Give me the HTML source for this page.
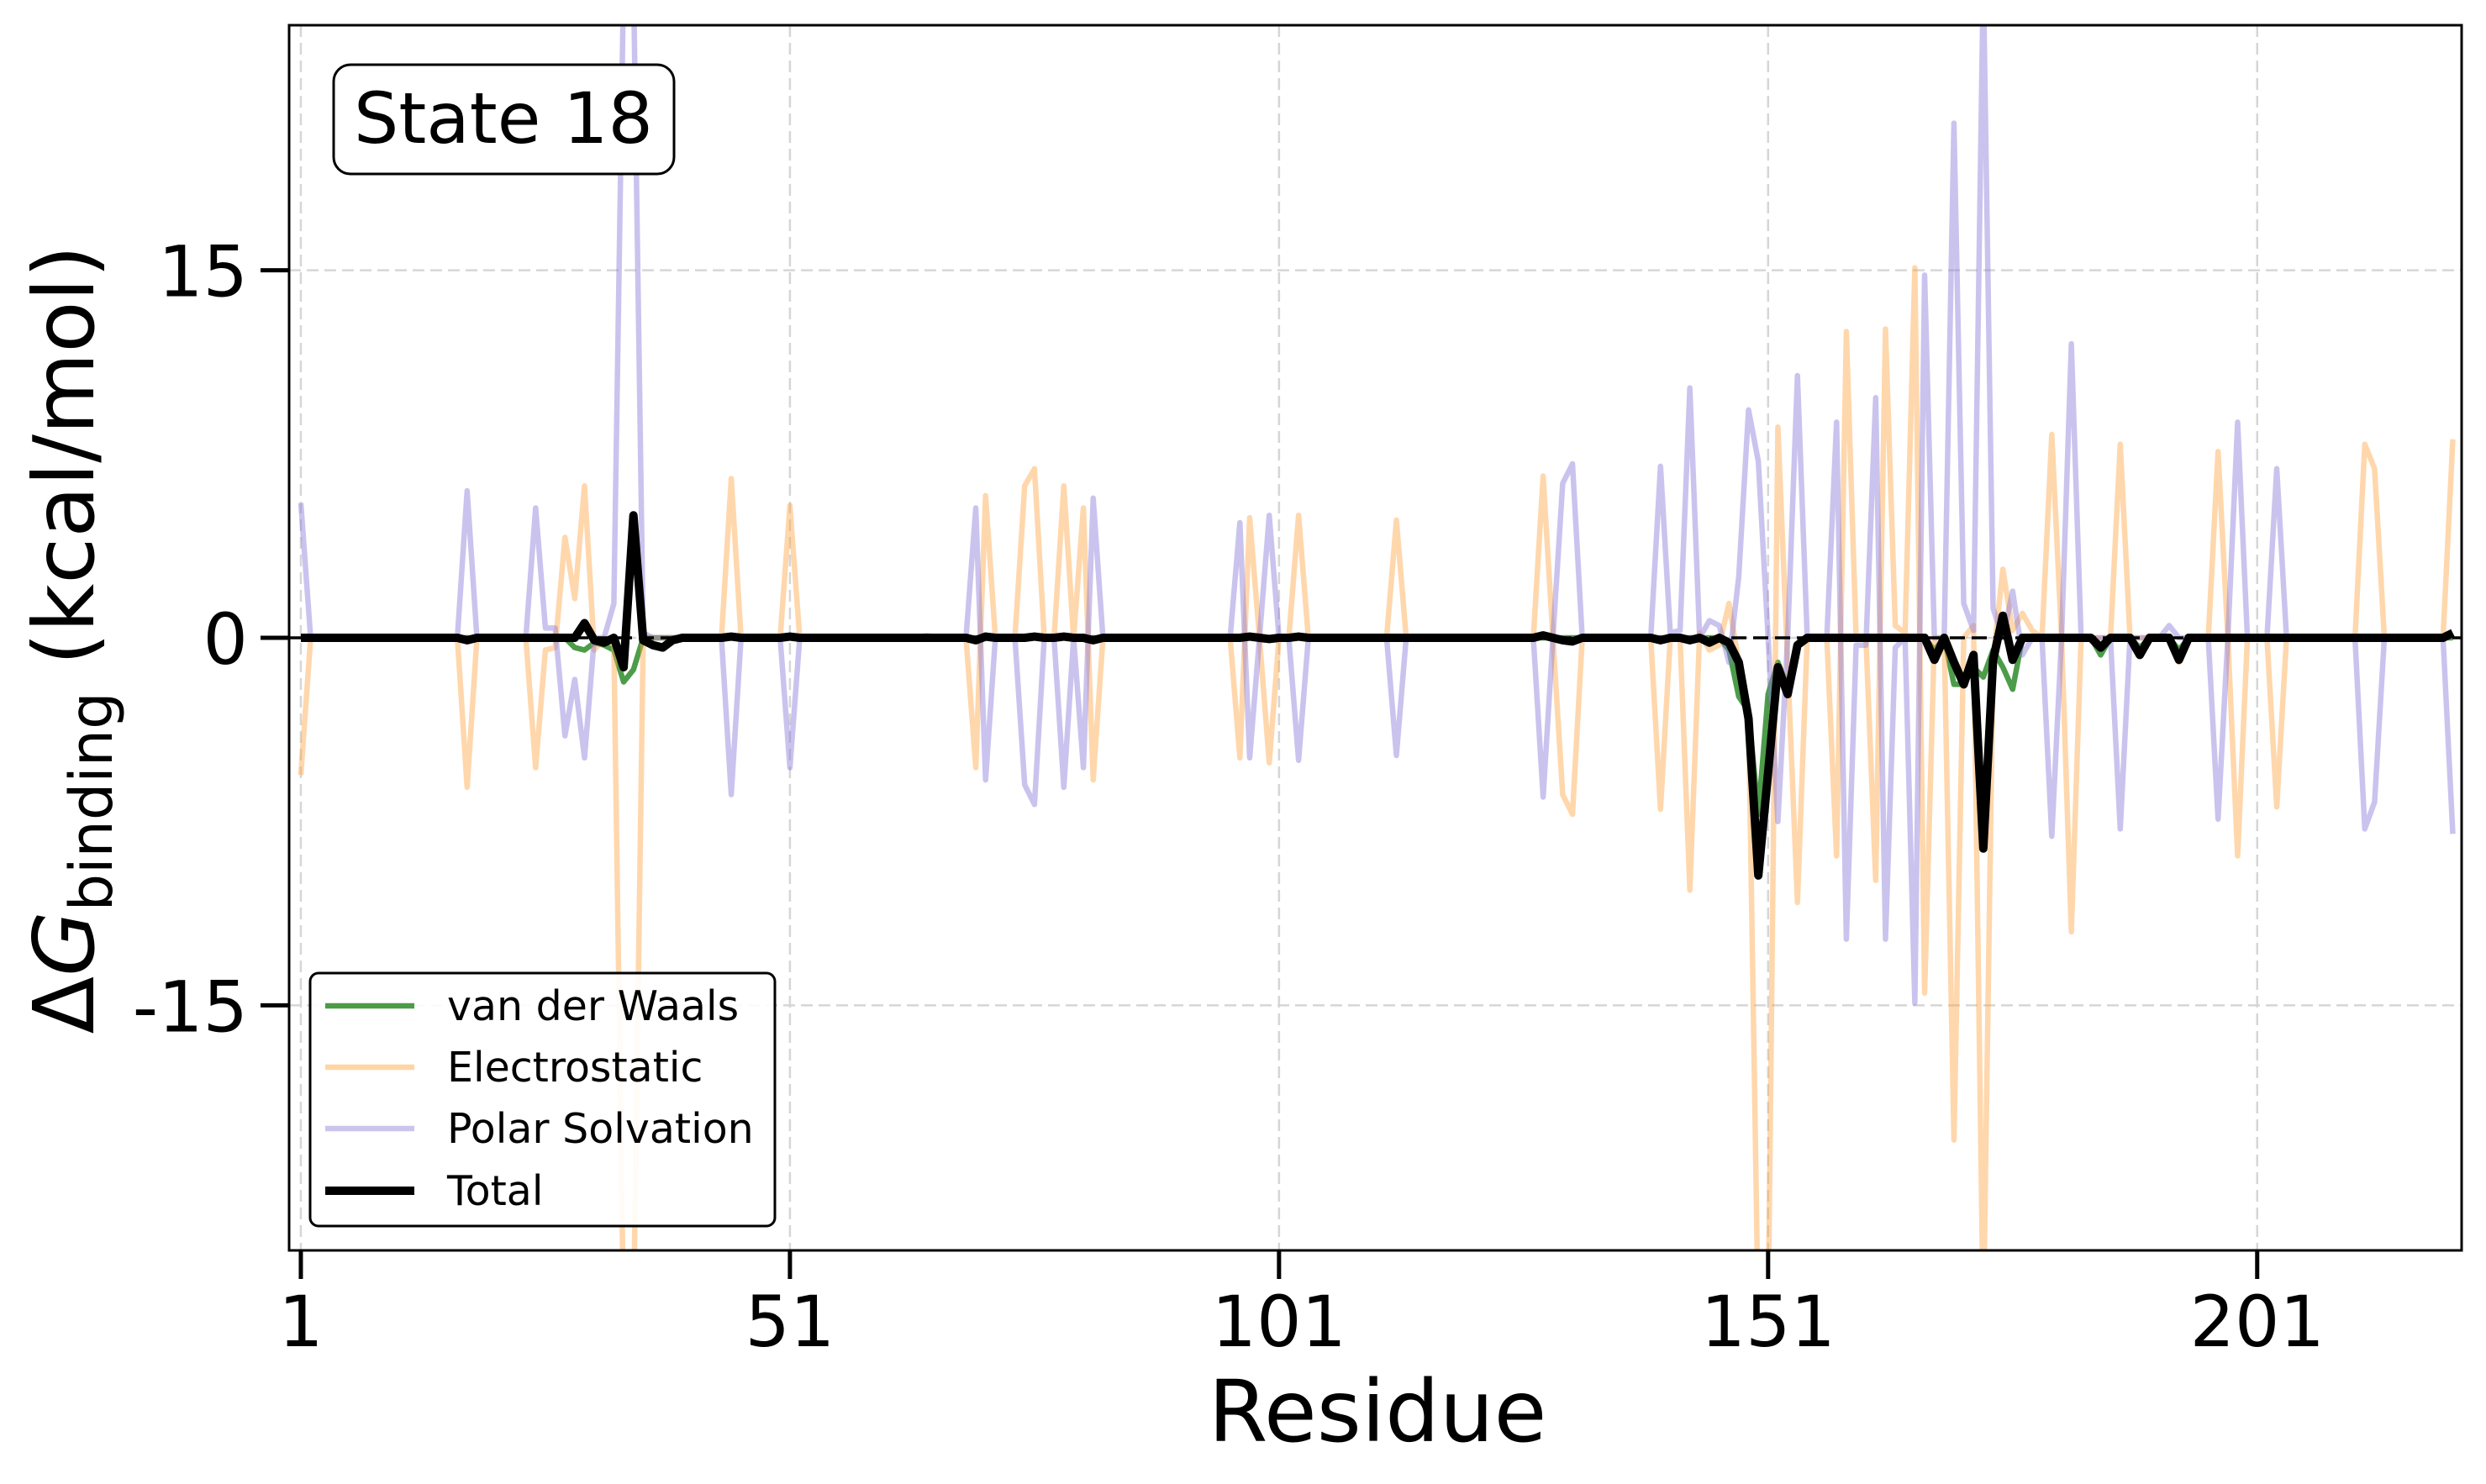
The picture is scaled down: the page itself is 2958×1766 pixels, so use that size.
<!DOCTYPE html>
<html>
<head>
<meta charset="utf-8">
<style>
  html, body { margin:0; padding:0; background:#fff; }
  svg { display:block; font-family: "DejaVu Sans", "Liberation Sans", sans-serif; }
</style>
</head>
<body>
<svg id="chart" width="2958" height="1766" viewBox="0 0 2958 1766" xmlns="http://www.w3.org/2000/svg">
  <defs>
    <clipPath id="plotClip"><rect x="344" y="30" width="2585" height="1458"/></clipPath>
  </defs>
  <rect x="0" y="0" width="2958" height="1766" fill="#ffffff"/>
  <g id="grid"></g>
  <g id="series" clip-path="url(#plotClip)"></g>
  <rect x="344" y="30" width="2585" height="1458" fill="none" stroke="#000" stroke-width="3"/>
  <g id="ticks"></g>

  <text x="1639" y="1715" font-size="102" text-anchor="middle">Residue</text>
  <text transform="translate(111,761) rotate(-90)" font-size="100" text-anchor="middle"><tspan>Δ</tspan><tspan font-style="italic">G</tspan><tspan font-size="70" dy="22">binding</tspan><tspan dy="-22"> (kcal/mol)</tspan></text>

  <g>
    <rect x="397" y="77" width="405" height="130" rx="20" ry="20" fill="#fff" stroke="#000" stroke-width="3"/>
    <text x="599" y="170" font-size="84" text-anchor="middle">State 18</text>
  </g>

  <g>
    <rect x="369" y="1158" width="553" height="301" rx="10" ry="10" fill="#fff" fill-opacity="0.9" stroke="#000" stroke-width="3"/>
    <line x1="387" y1="1197" x2="493" y2="1197" stroke="#4c9c46" stroke-width="6.5"/>
    <text x="532" y="1214" font-size="49">van der Waals</text>
    <line x1="387" y1="1270" x2="493" y2="1270" stroke="#ffd5a3" stroke-width="6.5"/>
    <text x="532" y="1287" font-size="49">Electrostatic</text>
    <line x1="387" y1="1343" x2="493" y2="1343" stroke="#cbc4ec" stroke-width="6.5"/>
    <text x="532" y="1360" font-size="49">Polar Solvation</text>
    <line x1="387" y1="1417" x2="493" y2="1417" stroke="#000" stroke-width="10"/>
    <text x="532" y="1434" font-size="49">Total</text>
  </g>
</svg>
<script>
const nResidues = 221;
const xTicks = [1, 51, 101, 151, 201];
const yTicks = [-15, 0, 15];
const yTickLabels = ["-15", "0", "15"];

const vdwResidues = [29,30,31,32,33,34,35,147,148,149,150,151,152,153,154,168,170,171,172,173,174,175,176,185,189,193];
const vdwValues   = [-0.4,-0.5,-0.2,-0.3,-0.5,-1.8,-1.3,-0.5,-2.4,-3.0,-7.2,-2.3,-1.0,-2.0,-0.3,-0.5,-1.9,-1.9,-1.2,-1.6,-0.5,-1.2,-2.1,-0.7,-0.4,-0.5];

const elecResidues = [1,18,25,26,27,28,29,30,31,33,34,35,45,51,65,70,71,75,76,79,81,82,97,98,100,103,113,128,130,131,140,143,144,145,146,147,148,149,150,151,152,153,154,158,159,162,163,164,165,166,167,170,172,173,174,175,176,177,178,180,182,187,193,197,199,203,212,213,221];
const elecValues   = [-5.6,-6.1,-5.3,-0.5,-0.4,4.1,1.6,6.2,-0.5,-0.3,-28,-28,6.5,5.4,0.1,-5.3,5.8,6.2,6.9,6.2,5.3,-5.8,-4.9,4.9,-5.1,5.0,4.8,6.6,-6.4,-7.2,-7.0,-10.3,0.2,-0.5,-0.3,1.4,-1.0,-3.0,-28,-28,8.6,-1.1,-10.8,-8.9,12.5,-9.9,12.6,0.5,0.2,15.1,-14.5,-20.5,0.5,-28,-0.9,2.8,0.3,1.0,0.3,8.3,-12.0,7.9,-1.0,7.6,-8.9,-6.9,7.9,6.9,8.1];

const polarResidues = [1,18,25,26,27,28,29,30,33,34,35,36,45,51,70,71,75,76,79,81,82,97,98,100,103,113,128,130,131,140,141,142,143,145,146,147,148,149,150,152,154,158,159,160,161,162,163,164,166,167,170,171,172,173,174,176,177,180,182,187,192,197,199,203,212,213,221];
const polarValues   = [5.5,6.0,5.3,0.4,0.4,-4.0,-1.7,-4.9,1.4,27,27,0.2,-6.4,-5.3,5.3,-5.8,-6.0,-6.8,-6.1,-5.3,5.7,4.7,-4.9,5.0,-5.0,-4.8,-6.5,6.3,7.1,7.0,0.2,0.3,10.2,0.7,0.5,-1.0,2.5,9.3,7.2,-7.5,10.7,8.8,-12.3,-0.3,-0.3,9.8,-12.3,-0.4,-14.9,14.8,21.0,1.4,0.3,27,1.2,1.9,-0.7,-8.1,12.0,-7.8,0.5,-7.4,8.8,6.9,-7.8,-6.7,-8.0];

const totalResidues = [18,30,31,32,34,35,36,37,38,39,45,51,70,71,76,79,82,98,100,103,128,130,131,140,143,145,147,148,149,150,151,152,153,154,168,170,171,172,173,174,175,176,185,189,193,221];
const totalValues   = [-0.1,0.6,-0.1,-0.2,-1.2,5.0,-0.1,-0.3,-0.4,-0.1,0.05,0.05,-0.1,0.05,0.05,0.05,-0.1,0.05,-0.05,0.05,0.1,-0.1,-0.15,-0.1,-0.1,-0.2,-0.2,-1.0,-3.3,-9.7,-5.5,-1.2,-2.3,-0.3,-0.9,-1.0,-1.9,-0.7,-8.6,-0.9,0.9,-0.9,-0.4,-0.7,-0.9,0.2];

const NS = "http://www.w3.org/2000/svg";
const xMin = -0.2, xMax = 221.9, yMin = -25, yMax = 25;
const pL = 344, pR = 2929, pT = 30, pB = 1488;
function xScale(r) { return pL + (r - xMin) / (xMax - xMin) * (pR - pL); }
function yScale(v) { return pB - (v - yMin) / (yMax - yMin) * (pB - pT); }
function dense(res, vals) {
  const arr = new Array(nResidues).fill(0);
  res.forEach((r, i) => { arr[r - 1] = vals[i]; });
  return arr;
}
function mk(tag, attrs) {
  const el = document.createElementNS(NS, tag);
  for (const k in attrs) el.setAttribute(k, attrs[k]);
  return el;
}

const grid = document.getElementById('grid');
xTicks.forEach(t => {
  const l = mk('line', {x1: xScale(t), x2: xScale(t), y1: pT, y2: pB, stroke: '#d6d6d6', 'stroke-width': 2.5, 'stroke-dasharray': '14 7'});
  
  
  grid.appendChild(l);
});
yTicks.forEach(t => {
  const l = mk('line', {x1: pL, x2: pR, y1: yScale(t), y2: yScale(t), stroke: '#d6d6d6', 'stroke-width': 2.5, 'stroke-dasharray': '14 7'});
  
  
  grid.appendChild(l);
});

const series = document.getElementById('series');
function drawSeries(res, vals, color, width, opacity, name) {
  const d = dense(res, vals);
  const pts = d.map((v, i) => xScale(i + 1).toFixed(2) + ',' + yScale(v).toFixed(2)).join(' ');
  const pl = mk('polyline', {points: pts, fill: 'none', stroke: color, 'stroke-width': width, 'stroke-opacity': opacity, 'stroke-linejoin': 'round'});
  
  
  series.appendChild(pl);
}
drawSeries(vdwResidues, vdwValues, '#2e8b2a', 6.5, 0.85, 'vdw-line');
drawSeries(elecResidues, elecValues, '#ffa646', 6.5, 0.45, 'electrostatic-line');
drawSeries(polarResidues, polarValues, '#8a7ad9', 6.5, 0.45, 'polar-solvation-line');
const zl = mk('line', {x1: pL, x2: pR, y1: yScale(0), y2: yScale(0), stroke: '#000', 'stroke-width': 3.5, 'stroke-dasharray': '18 8'});


series.appendChild(zl);
drawSeries(totalResidues, totalValues, '#000000', 10, 1, 'total-line');

const ticks = document.getElementById('ticks');
xTicks.forEach(t => {
  const tk = mk('line', {x1: xScale(t), x2: xScale(t), y1: pB, y2: pB + 34, stroke: '#000', 'stroke-width': 5});
  
  
  ticks.appendChild(tk);
  const tx = mk('text', {x: xScale(t), y: 1602, 'font-size': 84, 'text-anchor': 'middle'});
  tx.textContent = String(t);
  
  
  ticks.appendChild(tx);
});
yTicks.forEach((t, i) => {
  const tk = mk('line', {x1: pL - 34, x2: pL, y1: yScale(t), y2: yScale(t), stroke: '#000', 'stroke-width': 5});
  
  
  ticks.appendChild(tk);
  const tx = mk('text', {x: 295, y: yScale(t) + 31, 'font-size': 84, 'text-anchor': 'end'});
  tx.textContent = yTickLabels[i];
  
  
  ticks.appendChild(tx);
});
</script>
</body>
</html>
